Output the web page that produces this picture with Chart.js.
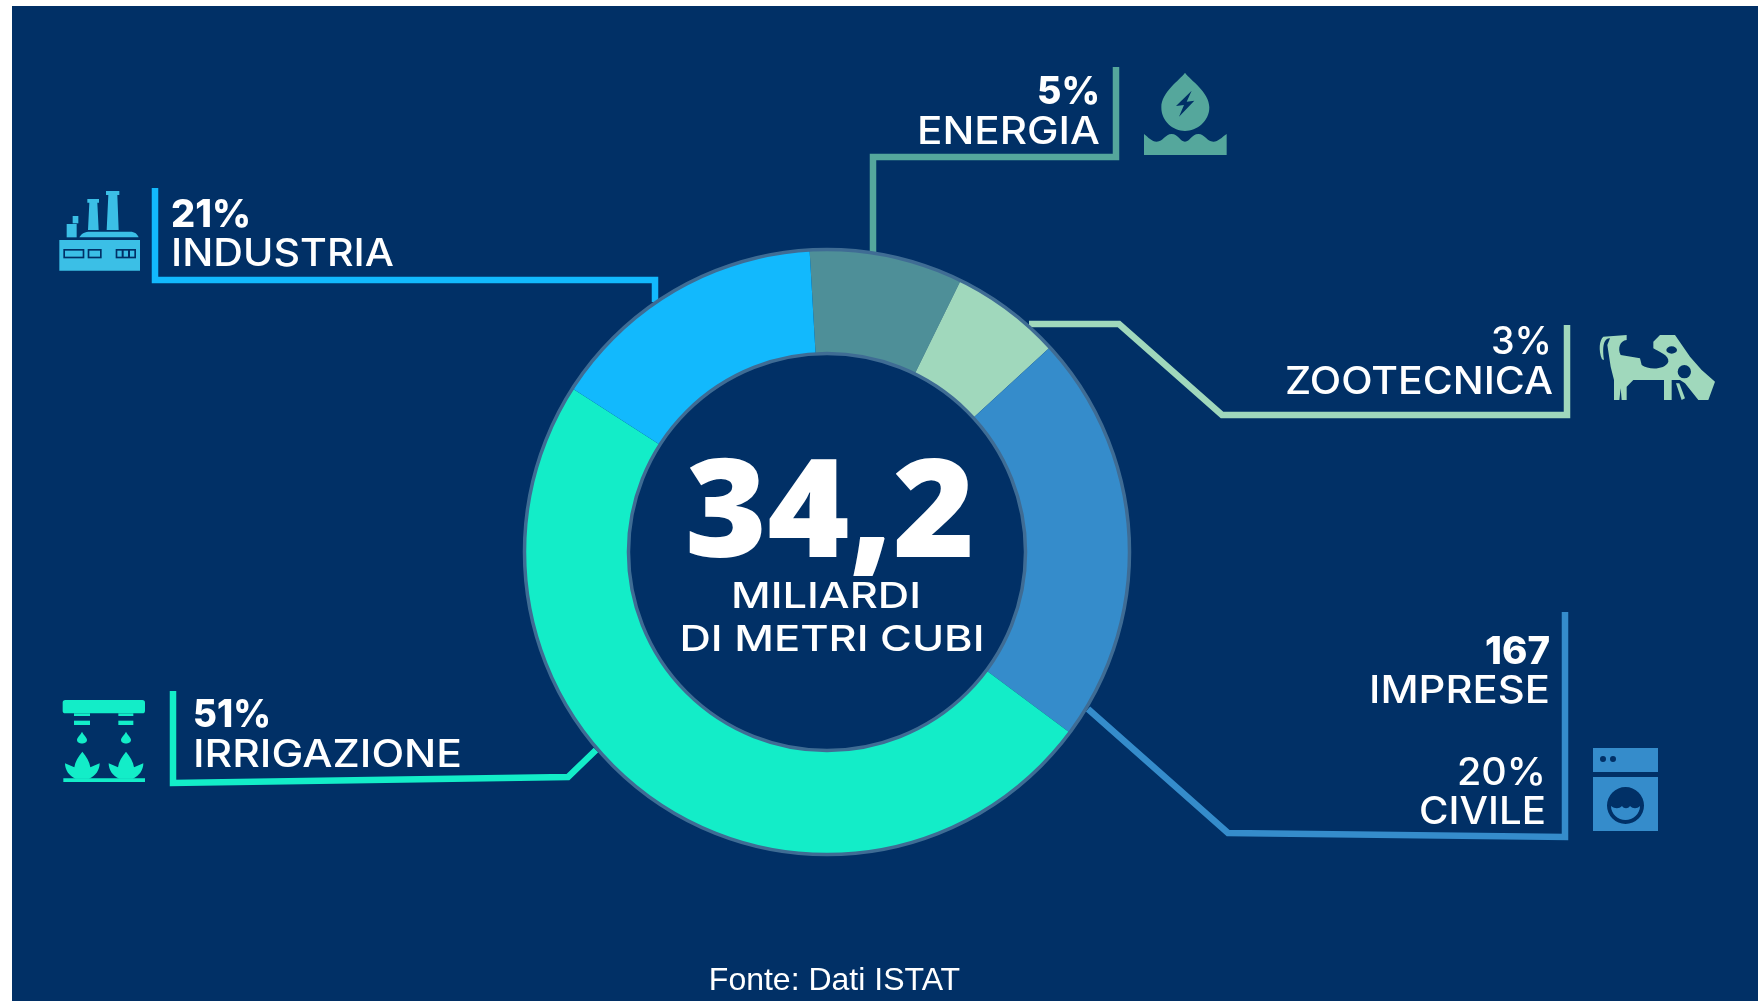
<!DOCTYPE html>
<html><head><meta charset="utf-8">
<style>html,body{margin:0;padding:0;background:#fff;width:1758px;height:1001px;overflow:hidden}
#wrap{position:absolute;left:0;top:0;width:1758px;height:1001px}</style>
<script src="https://cdn.jsdelivr.net/npm/chart.js@4/dist/chart.umd.min.js"></script>
</head><body><div id="wrap"><canvas id="c" width="1758" height="1001"></canvas></div>
<script>
// Sector names, in drawing order (clockwise)
const categories = ['ENERGIA','ZOOTECNICA','CIVILE','IRRIGAZIONE','INDUSTRIA'];
// Percentages as printed on the labels
const printedShares = ['5%','3%','20%','51%','21%'];
const drawnShares = [8.2,5.9,22.0,48.9,15.0];
const sliceColors = ['#4E8F98','#A0D8BC','#358CCB','#13EDC8','#12B9FD'];
const lineColors  = ['#55A79C','#A0D8BC','#358CCB','#13EDC8','#12B9FD'];
const totalValue = '34,2';
const totalUnit = ['MILIARDI','DI METRI CUBI'];
const extraValue = ['167','IMPRESE'];
const sourceNote = 'Fonte: Dati ISTAT';

const BG='#013066', FONT='Inter, "Open Sans", sans-serif';
const leaders = [
  [[1116,67],[1116,157],[873,157],[873,252]],
  [[1029,324],[1119,324],[1222,415],[1567,415],[1567,325]],
  [[1088,709],[1228,833],[1565,837],[1565,612]],
  [[596,750],[568,777],[173,783],[173,691]],
  [[155,188],[155,280],[655,280],[655,302]]
];
function label(ctx,txt,x,y,size,weight,align,w,font){
  ctx.save();
  ctx.font=`${weight} ${size}px ${font||FONT}`;ctx.textAlign=align;ctx.textBaseline='alphabetic';ctx.fillStyle='#fff';
  const sx=w?w/ctx.measureText(txt).width:1;
  ctx.translate(x,y);ctx.scale(sx,1);ctx.fillText(txt,0,0);ctx.restore();
}
// icon artwork is authored in the coordinates of a 3x view, hence the 1/3 scale
function icon(ctx,x,y,color,d,extra){ctx.save();ctx.translate(x,y);ctx.scale(1/3,1/3);ctx.fillStyle=color;
  d.forEach(p=>ctx.fill(new Path2D(p),'evenodd'));if(extra)extra(ctx);ctx.restore();}
const rect=(x0,y0,x1,y1)=>`M${x0} ${y0}H${x1}V${y1}H${x0}Z`;

const art={
 id:'art',
 beforeDraw(ch){const c=ch.ctx;c.save();c.fillStyle='#fff';c.fillRect(0,0,1758,1001);c.fillStyle=BG;c.fillRect(12,6,1746,995);c.restore();},
 beforeDatasetsDraw(ch){const c=ch.ctx;c.save();c.lineWidth=6.5;c.lineJoin='miter';c.lineCap='butt';
  leaders.forEach((l,i)=>{c.strokeStyle=lineColors[i];c.beginPath();l.forEach((p,j)=>j?c.lineTo(p[0],p[1]):c.moveTo(p[0],p[1]));c.stroke();});c.restore();},
 afterDatasetsDraw(ch){const c=ch.ctx,a=ch.getDatasetMeta(0).data[0];c.save();
  c.strokeStyle='#3F6C94';c.lineWidth=3.5;
  [a.outerRadius+.5,a.innerRadius-.5].forEach(r=>{c.beginPath();c.arc(a.x,a.y,r,0,Math.PI*2);c.stroke();});
  // centre
  label(c,totalValue,830,557,136,800,'center',290,'"Open Sans", sans-serif');
  label(c,totalUnit[0],826,608,36,500,'center',190);
  label(c,totalUnit[1],832,651,36,500,'center',305);
  // sector labels
  label(c,printedShares[4],171,227,38,800,'left',80);
  label(c,categories[4],171,266,38,500,'left',223);
  label(c,printedShares[0],1100,104,38,800,'right',63);
  label(c,categories[0],1100,144,38,500,'right',183);
  label(c,printedShares[1],1552,354,38,500,'right',61);
  label(c,categories[1],1553,394,38,500,'right',268);
  label(c,extraValue[0],1550,664,38,800,'right',65);
  label(c,extraValue[1],1550,703,38,500,'right',181);
  label(c,printedShares[2],1546,785,38,500,'right',89);
  label(c,categories[2],1546,824,38,500,'right',127);
  label(c,printedShares[3],193,727,38,800,'left',78);
  label(c,categories[3],193,767,38,500,'left',269);
  c.font='32px "Liberation Sans", Arial, sans-serif';c.textAlign='center';c.fillStyle='#fff';c.fillText(sourceNote,834.5,990);
  drawIcons(c);c.restore();}
};
function drawIcons(c){
 // energy: drop + waves
 icon(c,860,50,lineColors[0],[
  'M975 68 C990 90 1048 125 1048 172 C1048 215 1010 243 975 243 C940 243 904 215 904 172 C904 125 960 90 975 68 Z M995 122 L948 168 L972 165 L957 200 L1003 152 L980 155 Z',
  'M852 252 C865 262 875 275 890 275 C910 275 915 252 935 252 C955 252 960 275 975 275 C990 275 995 252 1015 252 C1035 252 1040 275 1060 275 C1075 275 1085 262 1100 252 L1100 315 L852 315 Z'
 ]);
 // factory
 const FACT='#3BBFE6';
 icon(c,50,180,FACT,[
  'M168 33 H208 V45 H202 L206 150 H170 L175 45 H168 Z',
  'M112 57 H147 V68 H142 L146 150 H114 L118 68 H112 Z',
  rect(68,108,85,130),rect(50,132,80,172),
  'M88 172 C95 160 105 155 120 155 H240 C255 155 262 162 266 172 Z',
  rect(28,180,270,272)
 ],g=>{
  g.fillStyle=BG;g.fillRect(40,207,63,28);g.fillRect(113,207,42,28);g.fillRect(197,207,61,28);
  g.fillStyle=FACT;g.fillRect(45,212,53,18);g.fillRect(118,212,32,18);
  g.fillRect(202,212,13,18);g.fillRect(221,212,13,18);g.fillRect(240,212,13,18);
 });
 // irrigation
 const leaf=x=>`M${x} 185 C${x+12} 200 ${x+22} 215 ${x+24} 232 L${x+52} 220 C${x+52} 240 ${x+40} 258 ${x+20} 266 L${x-20} 266 C${x-40} 258 ${x-52} 240 ${x-52} 220 L${x-24} 232 C${x-22} 215 ${x-12} 200 ${x} 185 Z`;
 const drop=x=>`M${x} 125 C${x+5} 136 ${x+15} 142 ${x+15} 150 C${x+15} 164 ${x-15} 164 ${x-15} 150 C${x-15} 142 ${x-5} 136 ${x} 125 Z`;
 icon(c,50,690,lineColors[3],[
  'M46 30 H277 Q285 30 285 38 V62 Q285 70 277 70 H46 Q38 70 38 62 V38 Q38 30 46 30 Z',
  rect(72,70,120,78),rect(205,70,250,78),rect(72,92,120,105),rect(205,92,250,105),
  drop(96),drop(228),leaf(97),leaf(228),
  rect(40,265,285,276)
 ]);
 // cow
 icon(c,1590,320,lineColors[1],[
  'M40 50 L110 45 L110 60 C90 62 82 85 92 105 L150 115 L155 135 C175 150 225 150 235 125 C238 105 205 95 190 85 L190 65 L210 45 L255 45 L300 110 L335 150 L375 185 L355 240 L325 240 L285 190 L270 180 L245 180 L245 240 L222 240 L222 180 L130 180 L110 200 L110 240 L95 240 L92 205 L88 240 L72 240 L72 180 L62 140 L52 75 L60 55 C45 55 35 70 42 120 L36 118 C25 90 28 60 40 50 Z M261 90 A16 11 0 1 0 229 90 A16 11 0 1 0 261 90 Z M303 155 A20 20 0 1 0 263 155 A20 20 0 1 0 303 155 Z',
  'M258 190 L268 190 L285 235 L275 240 Z'
 ]);
 // washing machine
 icon(c,1593,748,lineColors[2],[
  rect(0,0,195,72)+'M30 24 A9 9 0 1 0 30 42 A9 9 0 1 0 30 24 Z M60 24 A9 9 0 1 0 60 42 A9 9 0 1 0 60 24 Z',
  rect(0,87,195,249)+'M97.5 117 A55.5 55.5 0 1 0 97.5 228 A55.5 55.5 0 1 0 97.5 117 Z',
  'M54 174 C66 183 78 183 87 174 C93 183 105 183 111 174 C120 183 132 183 141 174 C141 198 120 216 97.5 216 C75 216 54 198 54 174 Z'
 ]);
}
new Chart(document.getElementById('c'),{
 type:'doughnut',
 data:{labels:categories,datasets:[{data:drawnShares,backgroundColor:sliceColors,borderWidth:0,hoverOffset:0}]},
 options:{responsive:false,animation:false,cutout:'65.9%',rotation:-3.3,
  layout:{padding:{left:525,right:629,top:250,bottom:147}},
  plugins:{legend:{display:false},tooltip:{enabled:false},title:{display:false}},events:[]},
 plugins:[art]
});
</script></body></html>
